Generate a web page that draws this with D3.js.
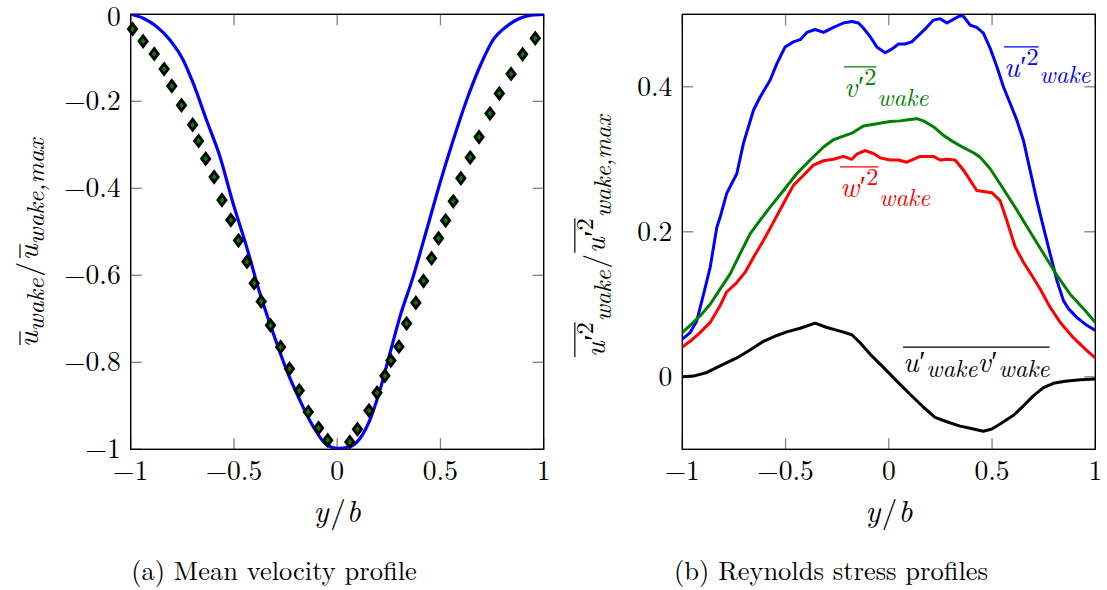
<!DOCTYPE html>
<html>
<head>
<meta charset="utf-8">
<script src="https://cdn.jsdelivr.net/npm/d3@7"></script>
<style>
  html, body { margin: 0; padding: 0; background: #fff; }
  svg { display: block; }
</style>
</head>
<body>
<svg id="fig" width="1107" height="590"></svg>
<script>
// ---------- (a) mean velocity profile ----------
const meanY = [-1, -0.939, -0.875, -0.810, -0.746, -0.697, -0.633, -0.568, -0.504, -0.439,
  -0.374, -0.310, -0.245, -0.181, -0.116, -0.051, 0.0, 0.061, 0.110, 0.158, 0.207, 0.255,
  0.304, 0.368, 0.433, 0.497, 0.562, 0.627, 0.691, 0.755, 0.820, 0.885, 0.94, 1.0];
const meanU = [0, -0.009, -0.028, -0.059, -0.105, -0.159, -0.243, -0.327, -0.435, -0.534,
  -0.642, -0.733, -0.818, -0.887, -0.948, -0.990, -0.998, -0.994, -0.975, -0.933, -0.864, -0.780,
  -0.695, -0.603, -0.496, -0.389, -0.289, -0.197, -0.120, -0.059, -0.028, -0.009, -0.002, 0];

// measured profile (diamonds)
const expY = [-0.991, -0.940, -0.886, -0.838, -0.801, -0.754, -0.700, -0.671, -0.637, -0.596,
  -0.558, -0.515, -0.478, -0.437, -0.402, -0.368, -0.323, -0.274, -0.231, -0.184, -0.140,
  -0.090, -0.046, 0.061, 0.098, 0.154, 0.193, 0.231, 0.260, 0.299, 0.336, 0.381, 0.418,
  0.457, 0.491, 0.525, 0.562, 0.599, 0.644, 0.687, 0.740, 0.785, 0.842, 0.898, 0.959];
const expU = [-0.034, -0.062, -0.091, -0.126, -0.165, -0.209, -0.254, -0.291, -0.332, -0.374,
  -0.427, -0.473, -0.520, -0.569, -0.618, -0.660, -0.715, -0.765, -0.815, -0.865, -0.914,
  -0.951, -0.979, -0.983, -0.954, -0.911, -0.870, -0.831, -0.796, -0.764, -0.711, -0.663, -0.613,
  -0.561, -0.515, -0.474, -0.430, -0.377, -0.329, -0.282, -0.228, -0.182, -0.137, -0.092, -0.055];

const xTicks = [-1, -0.5, 0, 0.5, 1];
const xTickLabels = ["\u22121", "\u22120.5", "0", "0.5", "1"];
const aYTicks = [0, -0.2, -0.4, -0.6, -0.8, -1];
const aYTickLabels = ["0", "\u22120.2", "\u22120.4", "\u22120.6", "\u22120.8", "\u22121"];

// ---------- (b) Reynolds stress profiles ----------
const uuY = [-1.0, -0.962, -0.930, -0.897, -0.865, -0.833, -0.817, -0.785, -0.736, -0.704,
  -0.655, -0.623, -0.575, -0.542, -0.502, -0.462, -0.429, -0.397, -0.357, -0.316, -0.268,
  -0.220, -0.179, -0.147, -0.123, -0.090, -0.058, -0.018, 0.015, 0.047, 0.079, 0.111, 0.144,
  0.184, 0.216, 0.249, 0.281, 0.313, 0.345, 0.362, 0.394, 0.426, 0.458, 0.491, 0.523, 0.555,
  0.588, 0.620, 0.652, 0.684, 0.717, 0.749, 0.781, 0.814, 0.846, 0.870, 0.910, 0.959, 1.0];
const uuVal = [0.052, 0.061, 0.077, 0.114, 0.151, 0.206, 0.220, 0.253, 0.280, 0.322,
  0.368, 0.386, 0.409, 0.432, 0.455, 0.462, 0.465, 0.475, 0.479, 0.475, 0.482,
  0.488, 0.490, 0.488, 0.481, 0.469, 0.455, 0.447, 0.452, 0.459, 0.459, 0.462, 0.471,
  0.482, 0.492, 0.494, 0.488, 0.493, 0.498, 0.497, 0.485, 0.482, 0.474, 0.453, 0.428, 0.400,
  0.377, 0.354, 0.326, 0.285, 0.243, 0.206, 0.170, 0.133, 0.105, 0.094, 0.082, 0.071, 0.064];

const vvY = [-1.0, -0.962, -0.914, -0.865, -0.817, -0.768, -0.720, -0.672, -0.623, -0.575,
  -0.510, -0.446, -0.381, -0.316, -0.268, -0.220, -0.179, -0.123, -0.058, 0.006, 0.055, 0.103,
  0.136, 0.168, 0.216, 0.265, 0.313, 0.362, 0.410, 0.442, 0.491, 0.555, 0.620, 0.684, 0.749,
  0.814, 0.878, 0.943, 1.0];
const vvVal = [0.061, 0.071, 0.084, 0.100, 0.121, 0.142, 0.170, 0.197, 0.216, 0.234,
  0.257, 0.280, 0.299, 0.317, 0.327, 0.332, 0.336, 0.346, 0.349, 0.352, 0.353, 0.355,
  0.356, 0.353, 0.345, 0.333, 0.324, 0.316, 0.309, 0.303, 0.287, 0.259, 0.230, 0.200, 0.170,
  0.140, 0.114, 0.094, 0.075];

const wwY = [-1.0, -0.962, -0.914, -0.865, -0.817, -0.785, -0.736, -0.696, -0.655, -0.607,
  -0.559, -0.510, -0.462, -0.413, -0.365, -0.316, -0.268, -0.220, -0.179, -0.155, -0.115,
  -0.074, -0.042, 0.006, 0.047, 0.087, 0.119, 0.152, 0.216, 0.249, 0.281, 0.321, 0.362, 0.394,
  0.426, 0.499, 0.539, 0.571, 0.612, 0.652, 0.692, 0.733, 0.781, 0.830, 0.894, 0.959, 1.0];
const wwVal = [0.041, 0.049, 0.061, 0.075, 0.098, 0.117, 0.130, 0.144, 0.165, 0.188,
  0.213, 0.239, 0.264, 0.278, 0.292, 0.298, 0.300, 0.304, 0.300, 0.307, 0.312,
  0.308, 0.302, 0.299, 0.299, 0.296, 0.300, 0.304, 0.304, 0.299, 0.300, 0.299, 0.285, 0.271,
  0.257, 0.254, 0.243, 0.216, 0.179, 0.158, 0.140, 0.121, 0.096, 0.075, 0.054, 0.036, 0.026];

const uvY = [-1.0, -0.946, -0.881, -0.817, -0.736, -0.672, -0.607, -0.542, -0.494, -0.429,
  -0.357, -0.300, -0.236, -0.179, -0.139, -0.090, -0.026, 0.039, 0.103, 0.168, 0.224, 0.281,
  0.345, 0.394, 0.458, 0.499, 0.539, 0.604, 0.652, 0.701, 0.749, 0.797, 0.854, 0.927, 1.0];
const uvVal = [0.0, 0.001, 0.006, 0.015, 0.026, 0.037, 0.049, 0.057, 0.062, 0.067,
  0.074, 0.068, 0.063, 0.058, 0.047, 0.031, 0.013, -0.006, -0.024, -0.042, -0.056, -0.062,
  -0.068, -0.071, -0.075, -0.072, -0.065, -0.053, -0.040, -0.026, -0.015, -0.009, -0.006, -0.004, -0.003];

const bYTicks = [0, 0.2, 0.4];
const bYTickLabels = ["0", "0.2", "0.4"];

// ---------- drawing ----------
const SERIF = '"Latin Modern Roman", "Liberation Serif", "Times New Roman"';
const svg = d3.select("#fig");
const FS = 27.5;        // tick label size
const LFS = 29;         // in-plot label size
const SUB = 0.84;       // script size ratio

// Lay out a run of math-like pieces left to right; pieces sharing an `ol`
// key get a common overline.
function mathText(parent, x, y, parts, opts) {
  opts = opts || {};
  const fs = opts.fs || LFS;
  const g = parent.append("g").attr("fill", opts.color || "#000");
  let cx = 0;
  const spans = {};
  parts.forEach(p => {
    const size = fs * (p.s || 1);
    const kern = (p.kern || 0) * fs;
    const t = g.append("text")
      .attr("x", cx + kern)
      .attr("y", (p.dy || 0) * fs)
      .style("font-family", SERIF)
      .attr("font-size", size)
      .attr("font-style", p.it === false ? "normal" : "italic")
      .text(p.t);
    const w = t.node().getComputedTextLength();
    const x0 = cx;
    cx += w + kern + (p.after || 0) * fs;
    if (p.ol) {
      const s = spans[p.ol] || (spans[p.ol] = { a: x0 + (p.olpad || 0) * fs, b: cx, h: p.olh || 0.62 });
      s.b = x0 + w + kern;
    }
  });
  Object.values(spans).forEach(s => {
    g.append("line")
      .attr("x1", s.a).attr("x2", s.b)
      .attr("y1", -s.h * fs).attr("y2", -s.h * fs)
      .attr("stroke", opts.color || "#000").attr("stroke-width", 1.2);
  });
  const shift = opts.anchor === "middle" ? -cx / 2 : 0;
  g.attr("transform", `translate(${x + shift},${y})`);
  return g;
}

function panel(px0, px1, py0, py1, yDomain, yTicks, yLabels, id) {
  const x = d3.scaleLinear().domain([-1, 1]).range([px0, px1]);
  const y = d3.scaleLinear().domain(yDomain).range([py1, py0]);
  const g = svg.append("g");

  g.append("clipPath").attr("id", id)
    .append("rect").attr("x", px0).attr("y", py0)
    .attr("width", px1 - px0).attr("height", py1 - py0);

  // inward ticks on all four sides
  const TL = 11;
  const tk = g.append("g").attr("stroke", "#808080").attr("stroke-width", 1.3);
  xTicks.forEach(v => {
    tk.append("line").attr("x1", x(v)).attr("x2", x(v)).attr("y1", py1).attr("y2", py1 - TL);
    tk.append("line").attr("x1", x(v)).attr("x2", x(v)).attr("y1", py0).attr("y2", py0 + TL);
  });
  yTicks.forEach(v => {
    tk.append("line").attr("x1", px0).attr("x2", px0 + TL).attr("y1", y(v)).attr("y2", y(v));
    tk.append("line").attr("x1", px1).attr("x2", px1 - TL).attr("y1", y(v)).attr("y2", y(v));
  });

  g.append("rect").attr("x", px0).attr("y", py0)
    .attr("width", px1 - px0).attr("height", py1 - py0)
    .attr("fill", "none").attr("stroke", "#000").attr("stroke-width", 1.4);

  // tick labels
  xTicks.forEach((v, i) => {
    g.append("text").attr("x", x(v)).attr("y", py1 + 31)
      .style("font-family", SERIF)
      .attr("text-anchor", "middle").attr("font-size", FS).text(xTickLabels[i]);
  });
  yTicks.forEach((v, i) => {
    g.append("text").attr("x", px0 - 10).attr("y", Math.max(y(v) + 9, 26))
      .style("font-family", SERIF)
      .attr("text-anchor", "end").attr("font-size", FS).text(yLabels[i]);
  });

  // x axis label  y/b
  mathText(g, (px0 + px1) / 2, py1 + 73, [
    { t: "y", after: 0.05 }, { t: "/", it: false, after: 0.03 }, { t: "b" }
  ], { anchor: "middle", fs: 31 });

  return { x, y, g, clip: `url(#${id})` };
}

// ----- panel (a)
const A = panel(130.7, 543.7, 14.3, 449.3, [-1, 0], aYTicks, aYTickLabels, "clipA");

const lineA = d3.line().x((d, i) => A.x(meanY[i])).y(d => A.y(d)).curve(d3.curveMonotoneX);
A.g.append("path").datum(meanU).attr("d", lineA).attr("clip-path", A.clip)
  .attr("fill", "none").attr("stroke", "#0000ff").attr("stroke-width", 3.2)
  .attr("stroke-linejoin", "round");

const diamond = "M0,-5.4 L4.1,0 L0,5.4 L-4.1,0 Z";
A.g.append("g").selectAll("path").data(expU).join("path")
  .attr("transform", (d, i) => `translate(${A.x(expY[i])},${A.y(d)})`)
  .attr("d", diamond)
  .attr("fill", "#008000").attr("stroke", "#000").attr("stroke-width", 2.8)
  .attr("stroke-linejoin", "miter");

// y label (a):  ū_wake / ū_wake,max
{
  const gl = svg.append("g").attr("transform", "translate(38,243) rotate(-90)");
  mathText(gl, 0, 0, [
    { t: "u", ol: "a", olh: 0.6, olpad: 0.08 },
    { t: "wake", s: SUB, dy: 0.2, after: 0.06 },
    { t: "/", it: false, after: 0.04 },
    { t: "u", ol: "b", olh: 0.6, olpad: 0.08 },
    { t: "wake,max", s: SUB, dy: 0.2 }
  ], { anchor: "middle", fs: 30 });
}

// ----- panel (b)
const B = panel(682.3, 1095.3, 14.3, 449.3, [-0.1, 0.5], bYTicks, bYTickLabels, "clipB");

const series = [
  { ys: uuY, vs: uuVal, color: "#0000ff" },
  { ys: vvY, vs: vvVal, color: "#008000" },
  { ys: wwY, vs: wwVal, color: "#ff0000" },
  { ys: uvY, vs: uvVal, color: "#000000" }
];
series.forEach(s => {
  const ln = d3.line().x((d, i) => B.x(s.ys[i])).y(d => B.y(d));
  B.g.append("path").datum(s.vs).attr("d", ln).attr("clip-path", B.clip)
    .attr("fill", "none").attr("stroke", s.color).attr("stroke-width", 3)
    .attr("stroke-linejoin", "round");
});

// overlined u'^2 style piece list
function sqTerm(letter, key, olh) {
  olh = olh || 1.04;
  return [
    { t: letter, ol: key, olh, after: 0.02 },
    { t: "\u2032", s: 1.0, dy: -0.04, ol: key, olh, it: false },
    { t: "2", s: SUB, dy: -0.4, it: false, ol: key, olh, after: 0.03 }
  ];
}
mathText(B.g, 1004, 77, [...sqTerm("u", "u"), { t: "wake", s: SUB, dy: 0.22 }], { color: "#0000ff" });
mathText(B.g, 844, 97, [...sqTerm("v", "v"), { t: "wake", s: SUB, dy: 0.3 }], { color: "#008000" });
mathText(B.g, 840, 197, [...sqTerm("w", "w"), { t: "wake", s: SUB, dy: 0.3 }], { color: "#ff0000" });
mathText(B.g, 903, 372, [
  { t: "u", ol: "k", olh: 0.86, after: 0.02 },
  { t: "\u2032", s: 1.0, dy: -0.04, it: false, ol: "k", olh: 0.86, after: 0.03 },
  { t: "wake", s: SUB, dy: 0.16, ol: "k", olh: 0.86 },
  { t: "v", ol: "k", olh: 0.86, after: 0.02 },
  { t: "\u2032", s: 1.0, dy: -0.04, it: false, ol: "k", olh: 0.86, after: 0.03 },
  { t: "wake", s: SUB, dy: 0.16, ol: "k", olh: 0.86 }
], { color: "#000" });

// y label (b)
{
  const gl = svg.append("g").attr("transform", "translate(605,236) rotate(-90)");
  mathText(gl, 0, 0, [
    ...sqTerm("u", "a"), { t: "wake", s: SUB, dy: 0.22, after: 0.06 },
    { t: "/", it: false, after: 0.04 },
    ...sqTerm("u", "b"), { t: "wake,max", s: SUB, dy: 0.22 }
  ], { anchor: "middle", fs: 29 });
}

// captions
svg.append("text").attr("x", 274).attr("y", 580).attr("text-anchor", "middle")
  .style("font-family", SERIF)
  .attr("font-size", 26.5).text("(a) Mean velocity profile");
svg.append("text").attr("x", 831).attr("y", 580).attr("text-anchor", "middle")
  .style("font-family", SERIF)
  .attr("font-size", 26.5).text("(b) Reynolds stress profiles");
</script>
</body>
</html>
